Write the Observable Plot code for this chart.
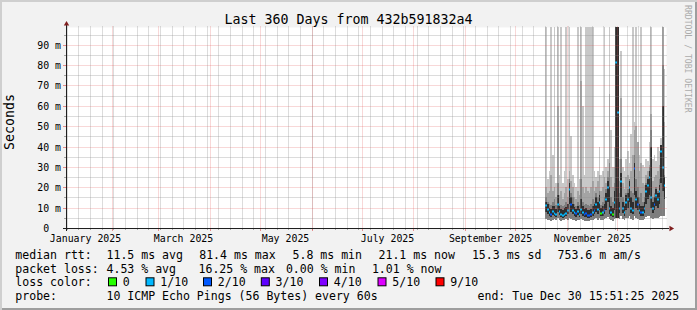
<!DOCTYPE html>
<html><head><meta charset="utf-8">
<script src="https://cdn.jsdelivr.net/npm/d3@7"></script>
<script src="https://cdn.jsdelivr.net/npm/@observablehq/plot@0.6"></script>
<style>
html,body{margin:0;padding:0;background:#fff;}
#wrap{position:relative;width:697px;height:310px;background:#f2f2f2;box-shadow:inset 2px 2px 0 #cfcfcf, inset -2px -2px 0 #9e9e9e;overflow:hidden;}
#wrap svg{position:absolute;left:0;top:0;}
</style></head><body><div id="wrap"></div>
<script>
// ---- data (one value per day, starting 2025-10-19) ----
const chartTitle = "Last 360 Days from 432b591832a4";
const yAxisTitle = "Seconds";
const credit = "RRDTOOL / TOBI OETIKER";
const rangeStart = new Date(Date.UTC(2025, 0, 4, 15, 51, 25));
const rangeEnd = new Date(Date.UTC(2025, 11, 30, 15, 51, 25));
const firstDay = new Date(Date.UTC(2025, 9, 19, 6, 0, 0));

const xTickLabels = ["January 2025", "March 2025", "May 2025", "July 2025", "September 2025", "November 2025"];
const xTickDates = [Date.UTC(2025,0,16), Date.UTC(2025,2,16), Date.UTC(2025,4,16), Date.UTC(2025,6,16), Date.UTC(2025,8,16), Date.UTC(2025,10,16)];
const yMajor = [0, 10, 20, 30, 40, 50, 60, 70, 80, 90];
const yMinor = [5, 15, 25, 35, 45, 55, 65, 75, 85, 95];
const yTickLabels = ["0\u00a0\u00a0", "10 m", "20 m", "30 m", "40 m", "50 m", "60 m", "70 m", "80 m", "90 m"];

// smoke (ms): min ping, top of each band, median, loss code
const smokeMin = [4.5,4,4,3.5,4,4.5,4,5,4,3.5, 4,4,4.5,4,5,4.5,4,4,3.5,4, 4,4.5,4,3.5,3.5,3.5,3.5,4,4,4.5, 5,4,5,4,4,4.5,5,5.5,4.5,4, 3.5,4.5,5,6,4.5,6,4.5,4,5,5, 6,4.5,4,6,5,4.5,4,4,4,4.5, 5.5,6,6,5,4.5,5,5,5,5.5,6, 6,6];
const smokeMax = [99,24,28,99,36,99,22,99,26,99, 22,28,99,24,99,45,26,22,20,99, 24,99,60,26,99,99,99,99,99,28, 25,28,40,26,28,99,30,34,99,48, 30,40,99,99,34,87,30,28,34,38, 32,46,99,52,99,42,36,99,31,30, 34,33,42,99,34,36,33,40,38,44, 99,78];
const smokeHigh = [20,17,18,26,18,20,15,60,16,18, 14,17,20,15,28,23,20,15,14,18, 16,72,20,17,20,18,17,20,23,18, 20,23,26,18,20,25,22,28,66,25, 20,30,99,99,23,64,22,19,25,26, 24,28,36,48,50,42,28,32,22,21, 26,28,31,56,23,25,26,28,31,36, 99,52];
const smokeMid = [15,13,12,11.5,13,14,11.5,22,12,11.5, 11,11.5,13,12,24,17,15,12,11,13, 11.5,24,13,11.5,12,11.5,11,12,14,13, 17,15,18,11.5,13,15,19,25,32,15, 13,22,99,99,17,34,15,13,17,19, 24,18,17,36,24,20,15,17,13,15, 22,25,30,48,15,17,20,18,24,40, 80,26];
const smokeCoreLow = [8,7,6,5.5,6.5,6,5.5,8,6.5,5.5, 5,5.5,6,7,12,8,7,6,5.5,6.5, 5.5,7,6,5.5,5.5,5,5,5.5,6,7, 8,7,9,6,6,7,9,13,7,6, 5.5,9,5,5,7.5,15,7.5,6,9,10, 13,7.5,7,16,10,9,7,6,6,7.5, 12,14,16,10,7.5,9,11,10,12,22, 18,14];
const smokeCoreHigh = [13,12,10,9.5,11,11,9.5,16,11,9.5, 9,10,10.5,12,22,15,12,10.5,9.5,11, 9.5,14,11,9.5,10,9,9,9.5,11,12, 15,13,16,10,11,12,17,23,20,11, 10,18,99,99,13,27,13,11,16,17, 23,15,13,32,18,15,12,11,11,13, 21,24,28,40,13,15,19,17,21,41, 60,25];
const medianRtt = [11.5,9.5,8,7,8.5,7.5,7,12,8.5,7, 6.5,7,7.5,9,19,12,9,8,7.5,8.5, 7,9.5,8,7,7.5,6.5,6.5,7,8,9, 12,9.5,13,7.5,8,9,14,20,10,8, 7,13,81.4,57,10,23,10,8,13,14, 20,10,9,29.5,14,12,9,8,8,10, 18,21,25,15,10,12,16,14,18,38, 30,21.1];
const lossCode = [1,1,1,2,1,1,1,1,1,1, 1,1,1,1,1,2,1,1,2,1, 1,1,1,2,2,2,2,2,1,2, 1,1,1,0,1,2,1,1,1,1, 0,1,1,1,1,1,1,1,1,1, 1,1,1,2,1,2,1,2,1,1, 1,1,1,1,1,2,1,1,1,1, 1,1];

const lossLabels = ["0", "1/10", "2/10", "3/10", "4/10", "5/10", "9/10"];
const lossColors = ["#26ff00", "#00b8ff", "#0059ff", "#5e00ff", "#7e00ff", "#dd00ff", "#ff0000"];

const legendRows = [
  ["median rtt:", "11.5 ms avg", "81.4 ms max", "5.8 ms min", "21.1 ms now", "15.3 ms sd", "753.6 m am/s"],
  ["packet loss:", "4.53 % avg", "16.25 % max", "0.00 % min", "1.01 % now"],
  ["loss color:"],
  ["probe:", "10 ICMP Echo Pings (56 Bytes) every 60s", "end: Tue Dec 30 15:51:25 2025"]
];

// ---- build ----
const rows = medianRtt.map((m, i) => ({
  d0: d3.utcDay.offset(firstDay, i), d1: d3.utcDay.offset(firstDay, i + 1),
  lo: smokeMin[i], maxv: smokeMax[i], hi: smokeHigh[i], mid: smokeMid[i],
  dkLo: smokeCoreLow[i], dk: smokeCoreHigh[i], med: m, loss: lossCode[i]
}));
const weekTicks = d3.utcSunday.range(rangeStart, rangeEnd);
const monthTicks = d3.utcMonth.range(rangeStart, rangeEnd);
const labelDates = xTickDates.map(t => new Date(t));
const labelMap = new Map(xTickDates.map((t, i) => [t, xTickLabels[i]]));
const yLabelMap = new Map(yMajor.map((v, i) => [v, yTickLabels[i]]));

const GRID = "rgba(143,143,143,0.62)";
const MGRID = "rgba(222,79,79,0.45)";
const TICK = "rgba(143,143,143,0.75)";
const MTICK = "rgba(222,79,79,0.6)";
const AXIS = "#1f1f1f";
const ARROW = "#801f1f";
const band = (y1, y2, fill) => Plot.rect(rows, {x1: "d0", x2: "d1", y1, y2, fill, clip: true});

const chart = Plot.plot({
  width: 697, height: 310,
  marginLeft: 66, marginRight: 31, marginTop: 27, marginBottom: 82,
  style: {background: "transparent", fontFamily: "'DejaVu Sans Mono', monospace", fontSize: "9.9px", color: "#000", overflow: "visible"},
  x: {type: "utc", domain: [rangeStart, rangeEnd], axis: null, round: true},
  y: {domain: [0, 98.7], axis: null, round: true},
  marks: [
    Plot.frame({fill: "#ffffff"}),
    band("lo", "maxv", "#c8c8c8"),
    band("lo", "hi", "#a4a4a4"),
    band("lo", "mid", "#7e7e7e"),
    band("dkLo", "dk", "#2e2e2e"),
    Plot.ruleY(rows, {y: "med", x1: "d0", x2: "d1", stroke: d => lossColors[d.loss], strokeWidth: 2, clip: true}),
    Plot.ruleX(weekTicks, {stroke: GRID, strokeDasharray: "1,1", dy: -0.5}),
    Plot.ruleY(yMinor, {stroke: GRID, strokeDasharray: "1,1", insetRight: -2, dx: -0.5}),
    Plot.ruleX(monthTicks, {stroke: MGRID, strokeDasharray: "1,1", dy: -0.5}),
    Plot.ruleY(yMajor.slice(1), {stroke: MGRID, strokeDasharray: "1,1", insetRight: -2, dx: -0.5}),
    Plot.axisX({ticks: weekTicks, tickSize: 2, fill: "none", stroke: TICK, label: null}),
    Plot.axisX({ticks: monthTicks, tickSize: 3, fill: "none", stroke: MTICK, label: null}),
    Plot.axisX({ticks: labelDates, tickSize: 0, tickPadding: 6.3, tickFormat: d => labelMap.get(+d), label: null, fill: "#000"}),
    Plot.axisY({ticks: yMinor, tickSize: 2, fill: "none", stroke: TICK, label: null}),
    Plot.axisY({ticks: yMajor, tickSize: 3, tickPadding: 2.5, tickFormat: d => yLabelMap.get(d), stroke: MTICK, fill: "#000", label: null}),
    Plot.ruleY([0], {stroke: AXIS, insetLeft: -3, insetRight: -3}),
    Plot.ruleX([rangeStart], {stroke: AXIS, insetTop: -3, insetBottom: -3}),
    Plot.dot([{x: rangeEnd, y: 0}], {x: "x", y: "y", symbol: "triangle", rotate: 90, r: 2, fill: ARROW, stroke: null, dx: 4.5}),
    Plot.dot([{x: rangeStart, y: 98.7}], {x: "x", y: "y", symbol: "triangle", r: 2, fill: ARROW, stroke: null, dy: -3.5})
  ]
});
document.getElementById("wrap").appendChild(chart);

// ---- texts: title, axis title, legend ----
const svg = d3.select(chart);
const T = svg.append("g").attr("font-family", "'DejaVu Sans Mono', monospace").attr("fill", "#000").attr("text-anchor", "start").style("white-space", "pre");
T.append("text").attr("x", 348.5).attr("y", 24.2).attr("text-anchor", "middle").attr("font-size", 13.3).text(chartTitle);
T.append("text").attr("transform", "translate(14,122) rotate(-90)").attr("text-anchor", "middle").attr("font-size", 13.3).text(yAxisTitle);
T.append("text").attr("transform", "translate(685,5) rotate(90)").attr("text-anchor", "start").attr("font-size", 8.15).attr("fill", "#ababab").text(credit);

const rowY = [258.5, 272.5, 286.3, 300.2];
const rowX = [
  [15.3, 106.5, 199.2, 292.5, 378.5, 471.9, 557.5],
  [15.3, 106.5, 198.5, 285.9, 371.9],
  [15.3],
  [15.3, 106.5, 477.5]
];
legendRows.forEach((r, ri) => r.forEach((s, si) => {
  T.append("text").attr("x", rowX[ri][si]).attr("y", rowY[ri]).attr("font-size", 11.55).text(s);
}));
const boxX = [108.5, 146, 203.5, 261.3, 319.5, 378, 436];
lossLabels.forEach((lab, i) => {
  T.append("rect").attr("x", boxX[i]).attr("y", 277.8).attr("width", 8).attr("height", 8)
    .attr("fill", lossColors[i]).attr("stroke", "#000").attr("stroke-width", 1);
  T.append("text").attr("x", boxX[i] + 14.3).attr("y", rowY[2]).attr("font-size", 11.55).text(lab);
});
</script></body></html>
